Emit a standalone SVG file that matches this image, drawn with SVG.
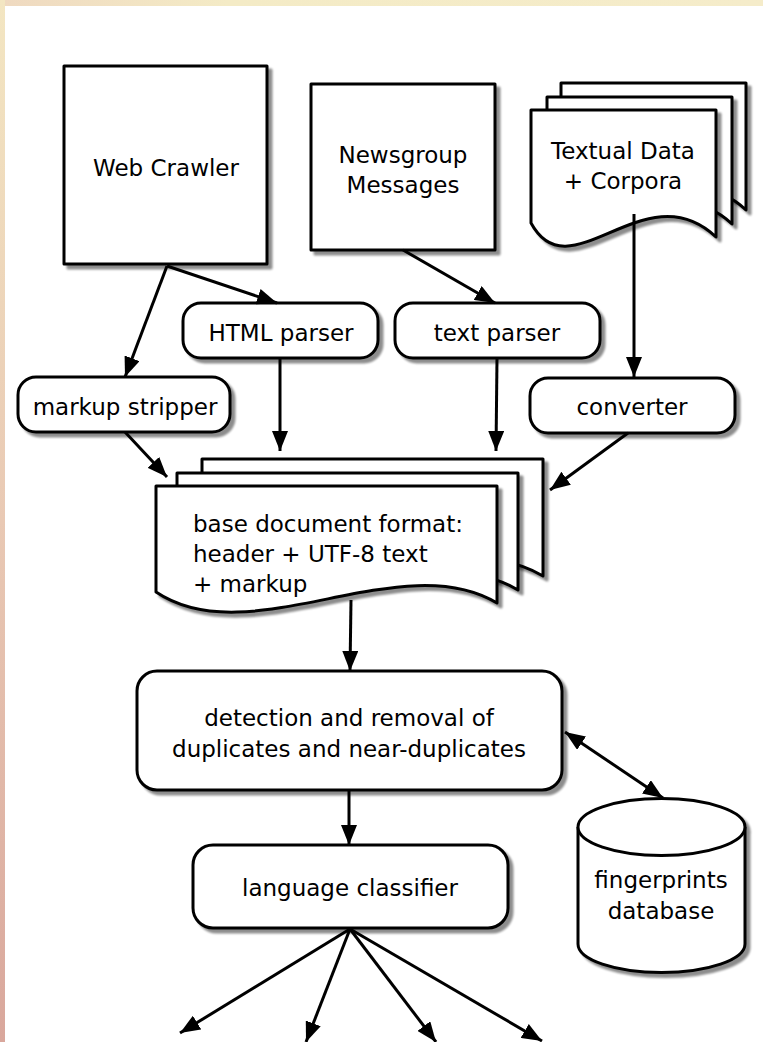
<svg xmlns="http://www.w3.org/2000/svg" width="763" height="1042" viewBox="0 0 763 1042">
<style>
.s{fill:#fff;stroke:#000;stroke-width:3;stroke-linejoin:round}
.t{font-family:"DejaVu Sans","Liberation Sans",sans-serif;font-size:23px;fill:#000}
.m{text-anchor:middle}
.c{fill:none;stroke:#000;stroke-width:3}
</style>
<defs>
<linearGradient id="lg" x1="0" y1="0" x2="0" y2="1">
<stop offset="0" stop-color="#f3e6c2"/><stop offset="0.5" stop-color="#e9c9b4"/><stop offset="1" stop-color="#d9a79c"/>
</linearGradient>
<linearGradient id="tg" x1="0" y1="0" x2="1" y2="0">
<stop offset="0" stop-color="#efd9c0"/><stop offset="0.3" stop-color="#f4ebc6"/><stop offset="1" stop-color="#f5ecca"/>
</linearGradient>
<filter id="sh" x="-10%" y="-10%" width="130%" height="130%">
<feGaussianBlur in="SourceAlpha" stdDeviation="1.2"/>
<feOffset dx="4" dy="4"/>
<feComponentTransfer><feFuncA type="linear" slope="0.45"/></feComponentTransfer>
<feMerge><feMergeNode/><feMergeNode in="SourceGraphic"/></feMerge>
</filter>
<marker id="ah" markerUnits="userSpaceOnUse" markerWidth="21" markerHeight="16" refX="20" refY="8" orient="auto-start-reverse">
<path d="M0,0 L20,8 L0,16 Z" fill="#000"/>
</marker>
<path id="doc1" d="M0,0 H341 V117 C244,59 94,169 0,106 Z"/>
<path id="doc2" d="M0,0 H185 V127 C114,60 39,185 0,113 Z"/>
</defs>
<rect x="0" y="0" width="763" height="1042" fill="#fff"/>
<rect x="0" y="0" width="763" height="6" fill="url(#tg)"/>
<rect x="0" y="0" width="5" height="1042" fill="url(#lg)"/>

<g id="web-crawler">
<rect class="s" x="64" y="66" width="203" height="198" filter="url(#sh)"/>
<text class="t m" x="166" y="176">Web Crawler</text>
</g>
<g id="newsgroup">
<rect class="s" x="311" y="84" width="184" height="166" filter="url(#sh)"/>
<text class="t m" x="403" y="163">Newsgroup</text>
<text class="t m" x="403" y="193">Messages</text>
</g>
<g id="textual-data">
<use href="#doc2" class="s" x="561" y="83" filter="url(#sh)"/>
<use href="#doc2" class="s" x="547" y="97" filter="url(#sh)"/>
<use href="#doc2" class="s" x="531" y="110" filter="url(#sh)"/>
<text class="t m" x="623" y="159">Textual Data</text>
<text class="t m" x="623" y="189">+ Corpora</text>
</g>
<g id="html-parser">
<rect class="s" x="183" y="303" width="195" height="55" rx="18" filter="url(#sh)"/>
<text class="t m" x="281" y="341">HTML parser</text>
</g>
<g id="text-parser">
<rect class="s" x="395" y="303" width="205" height="55" rx="18" filter="url(#sh)"/>
<text class="t m" x="497" y="341">text parser</text>
</g>
<g id="markup-stripper">
<rect class="s" x="18" y="377" width="212" height="55" rx="18" filter="url(#sh)"/>
<text class="t m" x="125" y="415">markup stripper</text>
</g>
<g id="converter">
<rect class="s" x="530" y="378" width="205" height="55" rx="18" filter="url(#sh)"/>
<text class="t m" x="632" y="415">converter</text>
</g>
<g id="base-document">
<use href="#doc1" class="s" x="202" y="459" filter="url(#sh)"/>
<use href="#doc1" class="s" x="177" y="473" filter="url(#sh)"/>
<use href="#doc1" class="s" x="156" y="486" filter="url(#sh)"/>
<text class="t" x="193" y="532">base document format:</text>
<text class="t" x="193" y="562">header + UTF-8 text</text>
<text class="t" x="193" y="592">+ markup</text>
</g>
<g id="detection">
<rect class="s" x="137" y="671" width="425" height="119" rx="20" filter="url(#sh)"/>
<text class="t m" x="349" y="726">detection and removal of</text>
<text class="t m" x="349" y="757">duplicates and near-duplicates</text>
</g>
<g id="language-classifier">
<rect class="s" x="193" y="845" width="315" height="83" rx="20" filter="url(#sh)"/>
<text class="t m" x="350" y="896">language classifier</text>
</g>
<g id="fingerprints">
<g filter="url(#sh)">
<path class="s" d="M578,827 A83.5,28.5 0 0 1 745,827 V944 A83.5,28.5 0 0 1 578,944 Z"/>
<path class="s" d="M578,827 A83.5,28.5 0 0 0 745,827"/>
</g>
<text class="t m" x="661" y="888">fingerprints</text>
<text class="t m" x="661" y="919">database</text>
</g>

<g id="connectors" class="c">
<path class="c" d="M167,266 L277,303" marker-end="url(#ah)"/>
<path class="c" d="M167,266 L125,377" marker-end="url(#ah)"/>
<path class="c" d="M403,250 L495,303" marker-end="url(#ah)"/>
<path class="c" d="M634,214 L634,377" marker-end="url(#ah)"/>
<path class="c" d="M280,358 L280,451" marker-end="url(#ah)"/>
<path class="c" d="M497,358 L496,451" marker-end="url(#ah)"/>
<path class="c" d="M125,432 L167,477" marker-end="url(#ah)"/>
<path class="c" d="M628,433 L550,490" marker-end="url(#ah)"/>
<path class="c" d="M351,600 L350,671" marker-end="url(#ah)"/>
<path class="c" d="M349,790 L349,845" marker-end="url(#ah)"/>
<path class="c" d="M565,732 L663,798" marker-start="url(#ah)" marker-end="url(#ah)"/>
<path class="c" d="M350,929 L180,1033" marker-end="url(#ah)"/>
<path class="c" d="M350,929 L306,1042" marker-end="url(#ah)"/>
<path class="c" d="M350,929 L436,1042" marker-end="url(#ah)"/>
<path class="c" d="M350,929 L542,1041" marker-end="url(#ah)"/>
</g>
</svg>
